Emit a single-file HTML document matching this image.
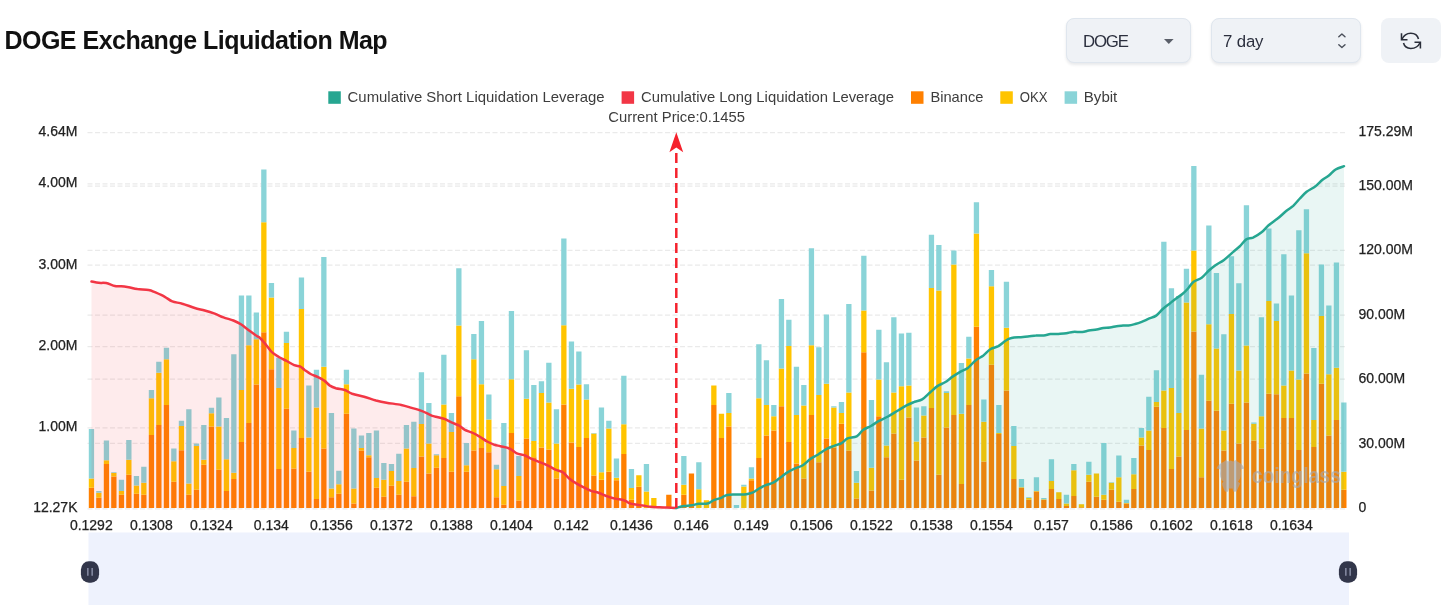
<!DOCTYPE html>
<html><head><meta charset="utf-8"><title>DOGE Exchange Liquidation Map</title>
<style>
html,body{margin:0;padding:0;background:#fff;}
body{width:1443px;height:605px;position:relative;overflow:hidden;font-family:"Liberation Sans",sans-serif;}
h1{position:absolute;left:4.4px;top:24.8px;margin:0;font-size:25px;line-height:30px;font-weight:bold;color:#111;letter-spacing:-0.5px;white-space:nowrap;}
.sel{position:absolute;top:18px;height:45px;box-sizing:border-box;background:#eff2f6;border:1px solid #dfe6ee;border-radius:8px;box-shadow:0 2px 3px rgba(30,40,60,.10);font-size:16.8px;color:#2b2f3e;line-height:45px;}
.sel span{position:absolute;top:0;}
.btn{position:absolute;left:1381px;top:18px;width:60px;height:45px;background:#eff2f6;border-radius:8px;}
</style></head><body>
<svg width="1443" height="605" viewBox="0 0 1443 605" style="position:absolute;left:0;top:0"><g stroke="#eaeaea" stroke-width="1.25" stroke-dasharray="5 2.5" fill="none"><line x1="87.5" x2="1347.5" y1="132.5" y2="132.5"/><line x1="87.5" x2="1347.5" y1="183.9" y2="183.9"/><line x1="87.5" x2="1347.5" y1="265.2" y2="265.2"/><line x1="87.5" x2="1347.5" y1="346.6" y2="346.6"/><line x1="87.5" x2="1347.5" y1="427.9" y2="427.9"/><line x1="87.5" x2="1347.5" y1="508.8" y2="508.8"/><line x1="87.5" x2="1347.5" y1="186.1" y2="186.1"/><line x1="87.5" x2="1347.5" y1="250.4" y2="250.4"/><line x1="87.5" x2="1347.5" y1="315.1" y2="315.1"/><line x1="87.5" x2="1347.5" y1="379.2" y2="379.2"/><line x1="87.5" x2="1347.5" y1="443.4" y2="443.4"/></g>
<path fill="#ff8000" d="M88.8 507.9V487.8h5.3V507.9zM96.2 507.9V497.8h5.3V507.9zM103.8 507.9V464.1h5.3V507.9zM111.2 507.9V476.5h5.3V507.9zM118.8 507.9V494.8h5.3V507.9zM126.2 507.9V474.8h5.3V507.9zM133.8 507.9V493.8h5.3V507.9zM141.2 507.9V494.8h5.3V507.9zM148.8 507.9V434.9h5.3V507.9zM156.2 507.9V424.9h5.3V507.9zM163.8 507.9V404.9h5.3V507.9zM171.2 507.9V481.8h5.3V507.9zM178.8 507.9V450.3h5.3V507.9zM186.2 507.9V494.8h5.3V507.9zM193.8 507.9V489.8h5.3V507.9zM201.2 507.9V464.8h5.3V507.9zM208.8 507.9V426.6h5.3V507.9zM216.2 507.9V469.8h5.3V507.9zM223.8 507.9V491h5.3V507.9zM231.2 507.9V479h5.3V507.9zM238.8 507.9V441.9h5.3V507.9zM246.2 507.9V422.9h5.3V507.9zM253.7 507.9V384.5h5.3V507.9zM261.2 507.9V332.3h5.3V507.9zM268.8 507.9V369.2h5.3V507.9zM276.2 507.9V469.1h5.3V507.9zM283.8 507.9V408.7h5.3V507.9zM291.2 507.9V468.6h5.3V507.9zM298.8 507.9V437.9h5.3V507.9zM306.2 507.9V471.8h5.3V507.9zM313.8 507.9V499h5.3V507.9zM321.2 507.9V448.6h5.3V507.9zM328.8 507.9V497.3h5.3V507.9zM336.2 507.9V493.8h5.3V507.9zM343.8 507.9V413.7h5.3V507.9zM351.2 507.9V503.5h5.3V507.9zM358.8 507.9V450.6h5.3V507.9zM366.2 507.9V457.3h5.3V507.9zM373.8 507.9V487.8h5.3V507.9zM381.2 507.9V496.8h5.3V507.9zM388.8 507.9V485.8h5.3V507.9zM396.2 507.9V494.8h5.3V507.9zM403.8 507.9V481.8h5.3V507.9zM411.2 507.9V496.3h5.3V507.9zM418.8 507.9V456.6h5.3V507.9zM426.2 507.9V473.6h5.3V507.9zM433.8 507.9V467.8h5.3V507.9zM441.2 507.9V458.1h5.3V507.9zM448.8 507.9V471.8h5.3V507.9zM456.2 507.9V396.2h5.3V507.9zM463.8 507.9V471.8h5.3V507.9zM471.2 507.9V450.6h5.3V507.9zM478.8 507.9V448.1h5.3V507.9zM486.2 507.9V452.3h5.3V507.9zM493.8 507.9V497.3h5.3V507.9zM501.2 507.9V504.7h5.3V507.9zM508.8 507.9V433.1h5.3V507.9zM516.2 507.9V500.5h5.3V507.9zM523.8 507.9V438.6h5.3V507.9zM531.2 507.9V457.3h5.3V507.9zM538.8 507.9V447.4h5.3V507.9zM546.2 507.9V449.4h5.3V507.9zM553.8 507.9V478.5h5.3V507.9zM561.2 507.9V404.4h5.3V507.9zM568.8 507.9V442.4h5.3V507.9zM576.2 507.9V446.9h5.3V507.9zM583.8 507.9V437.9h5.3V507.9zM591.2 507.9V475.5h5.3V507.9zM598.8 507.9V479.8h5.3V507.9zM606.2 507.9V471.8h5.3V507.9zM613.8 507.9V480.3h5.3V507.9zM621.2 507.9V454.1h5.3V507.9zM628.8 507.9V499.8h5.3V507.9zM636.2 507.9V486.8h5.3V507.9zM658.8 507.9V506.7h5.3V507.9zM666.2 507.9V494.8h5.3V507.9zM681.2 507.9V494.8h5.3V507.9zM688.8 507.9V473.6h5.3V507.9zM711.2 507.9V404.9h5.3V507.9zM718.8 507.9V437.9h5.3V507.9zM726.2 507.9V426.6h5.3V507.9zM748.8 507.9V480.3h5.3V507.9zM756.2 507.9V458.1h5.3V507.9zM763.8 507.9V435.6h5.3V507.9zM771.2 507.9V430.4h5.3V507.9zM778.8 507.9V406.2h5.3V507.9zM786.2 507.9V441.9h5.3V507.9zM793.8 507.9V463.6h5.3V507.9zM801.2 507.9V478.5h5.3V507.9zM808.8 507.9V414.9h5.3V507.9zM816.2 507.9V462.3h5.3V507.9zM823.8 507.9V438.6h5.3V507.9zM831.2 507.9V447.4h5.3V507.9zM838.8 507.9V423.7h5.3V507.9zM846.2 507.9V450.6h5.3V507.9zM853.8 507.9V498.5h5.3V507.9zM861.2 507.9V352.3h5.3V507.9zM868.8 507.9V490.5h5.3V507.9zM876.2 507.9V416.2h5.3V507.9zM883.8 507.9V457.3h5.3V507.9zM891.2 507.9V433.6h5.3V507.9zM898.8 507.9V479.8h5.3V507.9zM906.2 507.9V417.4h5.3V507.9zM913.8 507.9V460.6h5.3V507.9zM921.2 507.9V437.4h5.3V507.9zM928.8 507.9V407.9h5.3V507.9zM936.2 507.9V474.8h5.3V507.9zM943.8 507.9V427.4h5.3V507.9zM951.2 507.9V414.9h5.3V507.9zM958.8 507.9V484h5.3V507.9zM966.2 507.9V404.9h5.3V507.9zM973.8 507.9V326.8h5.3V507.9zM981.2 507.9V461.6h5.3V507.9zM988.8 507.9V364.8h5.3V507.9zM996.2 507.9V434.1h5.3V507.9zM1003.8 507.9V390.5h5.3V507.9zM1011.2 507.9V479h5.3V507.9zM1018.8 507.9V488h5.3V507.9zM1026.2 507.9V499.8h5.3V507.9zM1033.8 507.9V491.5h5.3V507.9zM1041.2 507.9V499.8h5.3V507.9zM1048.8 507.9V489h5.3V507.9zM1056.2 507.9V499h5.3V507.9zM1063.8 507.9V506h5.3V507.9zM1071.2 507.9V496h5.3V507.9zM1078.8 507.9V507.2h5.3V507.9zM1086.2 507.9V481.8h5.3V507.9zM1093.8 507.9V496.8h5.3V507.9zM1101.2 507.9V499.8h5.3V507.9zM1108.8 507.9V489.8h5.3V507.9zM1116.2 507.9V501.7h5.3V507.9zM1123.8 507.9V503.5h5.3V507.9zM1131.2 507.9V489h5.3V507.9zM1138.8 507.9V445.6h5.3V507.9zM1146.2 507.9V449.9h5.3V507.9zM1153.8 507.9V406.7h5.3V507.9zM1161.2 507.9V427.9h5.3V507.9zM1168.8 507.9V469.1h5.3V507.9zM1176.2 507.9V456.6h5.3V507.9zM1183.8 507.9V429.9h5.3V507.9zM1191.2 507.9V331.6h5.3V507.9zM1198.8 507.9V477.3h5.3V507.9zM1206.2 507.9V400.7h5.3V507.9zM1213.8 507.9V410.7h5.3V507.9zM1221.2 507.9V450.6h5.3V507.9zM1228.8 507.9V403.7h5.3V507.9zM1236.2 507.9V443.6h5.3V507.9zM1243.8 507.9V402.4h5.3V507.9zM1251.2 507.9V440.6h5.3V507.9zM1258.8 507.9V448.6h5.3V507.9zM1266.2 507.9V393.7h5.3V507.9zM1273.8 507.9V394.2h5.3V507.9zM1281.2 507.9V417.9h5.3V507.9zM1288.8 507.9V417.9h5.3V507.9zM1296.2 507.9V449.9h5.3V507.9zM1303.8 507.9V373.5h5.3V507.9zM1311.2 507.9V446.9h5.3V507.9zM1318.8 507.9V383.7h5.3V507.9zM1326.2 507.9V435.6h5.3V507.9zM1333.8 507.9V419.9h5.3V507.9zM1341.2 507.9V489.8h5.3V507.9z"/>
<path fill="#ffc400" d="M88.8 487.8V478.5h5.3V487.8zM96.2 497.8V492.8h5.3V497.8zM103.8 464.1V460.3h5.3V464.1zM111.2 476.5V473.1h5.3V476.5zM118.8 494.8V491h5.3V494.8zM126.2 474.8V459.8h5.3V474.8zM133.8 493.8V485.5h5.3V493.8zM141.2 494.8V482.8h5.3V494.8zM148.8 434.9V398.2h5.3V434.9zM156.2 424.9V372.7h5.3V424.9zM163.8 404.9V359.3h5.3V404.9zM171.2 481.8V461.3h5.3V481.8zM178.8 450.3V426.1h5.3V450.3zM186.2 494.8V483.5h5.3V494.8zM193.8 489.8V446.1h5.3V489.8zM201.2 464.8V459.8h5.3V464.8zM208.8 426.6V413.2h5.3V426.6zM216.2 469.8V426.6h5.3V469.8zM223.8 491V459.3h5.3V491zM231.2 479V472.8h5.3V479zM238.8 441.9V390h5.3V441.9zM246.2 422.9V345.3h5.3V422.9zM253.7 384.5V339.3h5.3V384.5zM261.2 332.3V222.3h5.3V332.3zM268.8 369.2V297.4h5.3V369.2zM276.2 469.1V388h5.3V469.1zM283.8 408.7V343h5.3V408.7zM291.2 468.6V448.1h5.3V468.6zM298.8 437.9V309.1h5.3V437.9zM306.2 471.8V437.4h5.3V471.8zM313.8 499V407.4h5.3V499zM321.2 448.6V366.7h5.3V448.6zM328.8 497.3V488.5h5.3V497.3zM336.2 493.8V484.3h5.3V493.8zM343.8 413.7V384.2h5.3V413.7zM351.2 503.5V488.5h5.3V503.5zM358.8 450.6V448.1h5.3V450.6zM366.2 457.3V455.3h5.3V457.3zM373.8 487.8V478h5.3V487.8zM381.2 496.8V479.8h5.3V496.8zM388.8 485.8V471.1h5.3V485.8zM396.2 494.8V481h5.3V494.8zM403.8 481.8V448.4h5.3V481.8zM411.2 496.3V468.1h5.3V496.3zM418.8 456.6V423.9h5.3V456.6zM426.2 473.6V443.4h5.3V473.6zM433.8 467.8V455.3h5.3V467.8zM441.2 458.1V404.4h5.3V458.1zM448.8 471.8V431.9h5.3V471.8zM456.2 396.2V325.6h5.3V396.2zM463.8 471.8V465.3h5.3V471.8zM471.2 450.6V359.3h5.3V450.6zM478.8 448.1V384.2h5.3V448.1zM486.2 452.3V419.4h5.3V452.3zM493.8 497.3V469.3h5.3V497.3zM501.2 504.7V486h5.3V504.7zM508.8 433.1V379.2h5.3V433.1zM516.2 500.5V476h5.3V500.5zM523.8 438.6V398.7h5.3V438.6zM531.2 457.3V441.1h5.3V457.3zM538.8 447.4V393h5.3V447.4zM546.2 449.4V402.4h5.3V449.4zM553.8 478.5V443.6h5.3V478.5zM561.2 404.4V325.3h5.3V404.4zM568.8 442.4V388.7h5.3V442.4zM576.2 446.9V384.5h5.3V446.9zM583.8 437.9V399.5h5.3V437.9zM591.2 475.5V433.6h5.3V475.5zM598.8 479.8V472.3h5.3V479.8zM606.2 471.8V428.6h5.3V471.8zM613.8 480.3V477.8h5.3V480.3zM621.2 454.1V424.2h5.3V454.1zM628.8 499.8V488h5.3V499.8zM636.2 486.8V475.3h5.3V486.8zM643.8 507.9V491.5h5.3V507.9zM651.2 507.9V498h5.3V507.9zM681.2 494.8V484.8h5.3V494.8zM696.2 507.9V489.3h5.3V507.9zM703.8 507.9V500.2h5.3V507.9zM711.2 404.9V385.5h5.3V404.9zM718.8 437.9V413.7h5.3V437.9zM726.2 426.6V412.9h5.3V426.6zM741.2 507.9V486.5h5.3V507.9zM748.8 480.3V478.5h5.3V480.3zM756.2 458.1V398.2h5.3V458.1zM763.8 435.6V404.9h5.3V435.6zM771.2 430.4V416.2h5.3V430.4zM778.8 406.2V368.5h5.3V406.2zM786.2 441.9V346h5.3V441.9zM793.8 463.6V414.9h5.3V463.6zM801.2 478.5V405.4h5.3V478.5zM808.8 414.9V345.3h5.3V414.9zM816.2 462.3V395h5.3V462.3zM823.8 438.6V383.7h5.3V438.6zM831.2 447.4V407.4h5.3V447.4zM838.8 423.7V412.9h5.3V423.7zM846.2 450.6V392.5h5.3V450.6zM853.8 498.5V482.8h5.3V498.5zM861.2 352.3V310.4h5.3V352.3zM868.8 490.5V467.8h5.3V490.5zM876.2 416.2V379.5h5.3V416.2zM883.8 457.3V445.6h5.3V457.3zM891.2 433.6V392.5h5.3V433.6zM898.8 479.8V386.2h5.3V479.8zM906.2 417.4V385.5h5.3V417.4zM913.8 460.6V441.6h5.3V460.6zM921.2 437.4V415.4h5.3V437.4zM928.8 407.9V287.9h5.3V407.9zM936.2 474.8V290.6h5.3V474.8zM943.8 427.4V393h5.3V427.4zM951.2 414.9V264.5h5.3V414.9zM958.8 484V413.7h5.3V484zM966.2 404.9V358.5h5.3V404.9zM973.8 326.8V233.5h5.3V326.8zM981.2 461.6V421.7h5.3V461.6zM988.8 364.8V286.2h5.3V364.8zM996.2 434.1V432.9h5.3V434.1zM1003.8 390.5V327.8h5.3V390.5zM1011.2 479V446.1h5.3V479zM1018.8 488V487.3h5.3V488zM1026.2 499.8V498h5.3V499.8zM1033.8 491.5V491h5.3V491.5zM1041.2 499.8V499.3h5.3V499.8zM1048.8 489V481h5.3V489zM1056.2 499V492.3h5.3V499zM1063.8 506V503.5h5.3V506zM1071.2 496V470.3h5.3V496zM1078.8 507.2V504.2h5.3V507.2zM1086.2 481.8V474.8h5.3V481.8zM1093.8 496.8V473.6h5.3V496.8zM1101.2 499.8V494.8h5.3V499.8zM1108.8 489.8V482.8h5.3V489.8zM1116.2 501.7V477.3h5.3V501.7zM1123.8 503.5V503h5.3V503.5zM1131.2 489V474.3h5.3V489zM1138.8 445.6V437.4h5.3V445.6zM1146.2 449.9V430.6h5.3V449.9zM1153.8 406.7V401.9h5.3V406.7zM1161.2 427.9V390.5h5.3V427.9zM1168.8 469.1V388h5.3V469.1zM1176.2 456.6V412.9h5.3V456.6zM1183.8 429.9V302.4h5.3V429.9zM1191.2 331.6V250.5h5.3V331.6zM1198.8 477.3V428.6h5.3V477.3zM1206.2 400.7V324.3h5.3V400.7zM1213.8 410.7V348.5h5.3V410.7zM1221.2 450.6V430.4h5.3V450.6zM1228.8 403.7V314.1h5.3V403.7zM1236.2 443.6V370.5h5.3V443.6zM1243.8 402.4V345.5h5.3V402.4zM1251.2 440.6V423.7h5.3V440.6zM1258.8 448.6V416.2h5.3V448.6zM1266.2 393.7V301.1h5.3V393.7zM1273.8 394.2V321.1h5.3V394.2zM1281.2 417.9V385.5h5.3V417.9zM1288.8 417.9V370.5h5.3V417.9zM1296.2 449.9V379.5h5.3V449.9zM1303.8 373.5V253.2h5.3V373.5zM1311.2 446.9V419.9h5.3V446.9zM1318.8 383.7V316.1h5.3V383.7zM1326.2 435.6V374.2h5.3V435.6zM1333.8 419.9V367.7h5.3V419.9zM1341.2 489.8V471.8h5.3V489.8z"/>
<path fill="#8ad4d8" d="M88.8 478.5V428.9h5.3V478.5zM96.2 492.8V491h5.3V492.8zM103.8 460.3V440.6h5.3V460.3zM111.2 473.1V472.3h5.3V473.1zM118.8 491V479.8h5.3V491zM126.2 459.8V439.9h5.3V459.8zM133.8 485.5V476h5.3V485.5zM141.2 482.8V466.8h5.3V482.8zM148.8 398.2V390h5.3V398.2zM156.2 372.7V361.8h5.3V372.7zM163.8 359.3V347.8h5.3V359.3zM171.2 461.3V448.4h5.3V461.3zM178.8 426.1V420.7h5.3V426.1zM186.2 483.5V409.2h5.3V483.5zM193.8 446.1V443.6h5.3V446.1zM201.2 459.8V424.9h5.3V459.8zM208.8 413.2V407.7h5.3V413.2zM216.2 426.6V397.5h5.3V426.6zM223.8 459.3V417.9h5.3V459.3zM231.2 472.8V354.3h5.3V472.8zM238.8 390V295.4h5.3V390zM246.2 345.3V295.4h5.3V345.3zM253.7 339.3V312.4h5.3V339.3zM261.2 222.3V169.4h5.3V222.3zM268.8 297.4V282.9h5.3V297.4zM276.2 388V357.8h5.3V388zM283.8 343V331.8h5.3V343zM291.2 448.1V430.6h5.3V448.1zM298.8 309.1V277.4h5.3V309.1zM306.2 437.4V385.5h5.3V437.4zM313.8 407.4V369.7h5.3V407.4zM321.2 366.7V257h5.3V366.7zM328.8 488.5V412.9h5.3V488.5zM336.2 484.3V470.8h5.3V484.3zM343.8 384.2V369.7h5.3V384.2zM351.2 488.5V428.6h5.3V488.5zM358.8 448.1V435.6h5.3V448.1zM366.2 455.3V432.9h5.3V455.3zM373.8 478V430.4h5.3V478zM381.2 479.8V463.1h5.3V479.8zM388.8 471.1V464.1h5.3V471.1zM396.2 481V453.8h5.3V481zM403.8 448.4V424.9h5.3V448.4zM411.2 468.1V421.7h5.3V468.1zM418.8 423.9V372.2h5.3V423.9zM426.2 443.4V402.9h5.3V443.4zM433.8 455.3V454.3h5.3V455.3zM441.2 404.4V354.8h5.3V404.4zM448.8 431.9V412.9h5.3V431.9zM456.2 325.6V268.2h5.3V325.6zM463.8 465.3V442.9h5.3V465.3zM471.2 359.3V334.1h5.3V359.3zM478.8 384.2V321.1h5.3V384.2zM486.2 419.4V394.5h5.3V419.4zM493.8 469.3V464.8h5.3V469.3zM501.2 486V422.9h5.3V486zM508.8 379.2V311.1h5.3V379.2zM516.2 476V456.1h5.3V476zM523.8 398.7V350.3h5.3V398.7zM531.2 441.1V385h5.3V441.1zM538.8 393V381.2h5.3V393zM546.2 402.4V362.8h5.3V402.4zM553.8 443.6V409.2h5.3V443.6zM561.2 325.3V238.5h5.3V325.3zM568.8 388.7V341.5h5.3V388.7zM576.2 384.5V351.5h5.3V384.5zM583.8 399.5V384.2h5.3V399.5zM591.2 433.6V432.9h5.3V433.6zM598.8 472.3V407.4h5.3V472.3zM606.2 428.6V420.7h5.3V428.6zM613.8 477.8V458.6h5.3V477.8zM621.2 424.2V375.7h5.3V424.2zM628.8 488V469.1h5.3V488zM643.8 491.5V464.1h5.3V491.5zM681.2 484.8V456.1h5.3V484.8zM696.2 489.3V462.3h5.3V489.3zM726.2 412.9V393h5.3V412.9zM733.8 507.9V505h5.3V507.9zM741.2 486.5V484.8h5.3V486.5zM748.8 478.5V467.3h5.3V478.5zM756.2 398.2V344.3h5.3V398.2zM763.8 404.9V360.3h5.3V404.9zM771.2 416.2V404.9h5.3V416.2zM778.8 368.5V299.1h5.3V368.5zM786.2 346V319.8h5.3V346zM793.8 414.9V366.7h5.3V414.9zM801.2 405.4V385h5.3V405.4zM808.8 345.3V248.2h5.3V345.3zM816.2 395V347.3h5.3V395zM823.8 383.7V314.4h5.3V383.7zM831.2 407.4V406.2h5.3V407.4zM838.8 412.9V401.9h5.3V412.9zM846.2 392.5V304.1h5.3V392.5zM853.8 482.8V471.1h5.3V482.8zM861.2 310.4V255.7h5.3V310.4zM868.8 467.8V400h5.3V467.8zM876.2 379.5V329.8h5.3V379.5zM883.8 445.6V362.3h5.3V445.6zM891.2 392.5V317.3h5.3V392.5zM898.8 386.2V333.6h5.3V386.2zM906.2 385.5V332.8h5.3V385.5zM913.8 441.6V407.4h5.3V441.6zM921.2 415.4V406.2h5.3V415.4zM928.8 287.9V234.8h5.3V287.9zM936.2 290.6V245h5.3V290.6zM943.8 393V391.2h5.3V393zM951.2 264.5V250.5h5.3V264.5zM958.8 413.7V363h5.3V413.7zM966.2 358.5V336.8h5.3V358.5zM973.8 233.5V202.3h5.3V233.5zM981.2 421.7V399.5h5.3V421.7zM988.8 286.2V269.9h5.3V286.2zM996.2 432.9V404.9h5.3V432.9zM1003.8 327.8V281.7h5.3V327.8zM1011.2 446.1V426.1h5.3V446.1zM1018.8 487.3V479h5.3V487.3zM1026.2 498V497.3h5.3V498zM1033.8 491V477.3h5.3V491zM1041.2 499.3V498h5.3V499.3zM1048.8 481V459.3h5.3V481zM1063.8 503.5V494.8h5.3V503.5zM1071.2 470.3V464.1h5.3V470.3zM1086.2 474.8V461.8h5.3V474.8zM1101.2 494.8V443.1h5.3V494.8zM1108.8 482.8V482.3h5.3V482.8zM1116.2 477.3V455.6h5.3V477.3zM1123.8 503V499.8h5.3V503zM1131.2 474.3V458.1h5.3V474.3zM1138.8 437.4V428.1h5.3V437.4zM1146.2 430.6V396.7h5.3V430.6zM1153.8 401.9V370.2h5.3V401.9zM1161.2 390.5V241.7h5.3V390.5zM1168.8 388V288.2h5.3V388zM1176.2 412.9V296.1h5.3V412.9zM1183.8 302.4V268.7h5.3V302.4zM1191.2 250.5V166.1h5.3V250.5zM1198.8 428.6V374.7h5.3V428.6zM1206.2 324.3V225.5h5.3V324.3zM1213.8 348.5V272.9h5.3V348.5zM1221.2 430.4V334.3h5.3V430.4zM1228.8 314.1V256.2h5.3V314.1zM1236.2 370.5V283.2h5.3V370.5zM1243.8 345.5V205.3h5.3V345.5zM1251.2 423.7V422.4h5.3V423.7zM1258.8 416.2V317.3h5.3V416.2zM1266.2 301.1V228.5h5.3V301.1zM1273.8 321.1V303.6h5.3V321.1zM1281.2 385.5V254.2h5.3V385.5zM1288.8 370.5V295.4h5.3V370.5zM1296.2 379.5V230.3h5.3V379.5zM1303.8 253.2V209.3h5.3V253.2zM1311.2 419.9V348h5.3V419.9zM1318.8 316.1V264.5h5.3V316.1zM1326.2 374.2V305.4h5.3V374.2zM1333.8 367.7V262.5h5.3V367.7zM1341.2 471.8V402.4h5.3V471.8z"/>
<path d="M91.5 281.5C92.7 281.7 96.4 282.6 98.7 282.8C101.1 283.1 103.6 282.6 106.2 283.1C108.8 283.6 112.5 285.5 114.9 286C117.3 286.5 119 286 121.2 286.2C123.4 286.4 126.1 286.8 128.7 287.2C131.3 287.7 134.2 288.6 137.4 289.1C140.6 289.5 145.8 289.5 148.6 290C151.4 290.5 152.3 291.1 154.9 292.2C157.4 293.3 162 295.3 164.8 296.8C167.6 298.3 169.5 300.3 172.3 301.4C175.1 302.5 178.7 302.6 182.3 303.7C185.9 304.7 191.2 306.9 194.8 308C198.4 309.1 201.6 309.6 204.7 310.5C207.9 311.4 211.7 312.6 214.7 313.7C217.7 314.8 220.5 316.3 223.5 317.4C226.4 318.5 230.6 319.4 233.4 320.5C236.2 321.6 238.5 322.8 240.9 324.3C243.3 325.8 245.8 328 248.4 329.9C251 331.8 255.3 334.8 257.1 336.1C259 337.4 258.6 336.6 260 338C261.4 339.3 264 342.4 266 344.7C267.9 346.9 269.8 350.1 271.9 352.1C274 354.1 277 355.9 279.3 357.3C281.7 358.7 284.4 359.8 286.8 361C289.2 362.3 292.1 364.3 294.2 365.2C296.4 366.1 298.5 365.8 300.2 366.5C301.8 367.3 303 368.8 304.6 370C306.3 371.1 308.4 372.8 310.6 374C312.7 375.1 315.9 376.1 318 377.1C320.2 378.1 322.1 379 324 380.4C325.9 381.7 328 384.3 329.9 385.6C331.8 386.8 333.5 387.5 335.9 388.3C338.3 389 342.2 389.2 344.8 390C347.4 390.9 349.1 392.7 352.2 393.8C355.3 394.8 360.3 395.7 364.1 396.7C367.9 397.8 372.5 399.5 376 400.5C379.6 401.4 382.4 402 386.5 402.7C390.5 403.4 397.3 404.1 401.3 404.9C405.4 405.8 408.4 406.9 411.7 407.9C415.1 408.9 419.1 410 422.2 411.2C425.2 412.4 429 414.5 431.1 415.3C433.1 416.2 432.9 415.9 435 416.5C437.1 417 441.3 417.8 443.9 418.7C446.5 419.7 449 421.4 451.4 422.4C453.7 423.5 456.7 424.2 458.8 425.4C460.9 426.6 462.6 428.7 464.8 429.9C466.9 431 469.8 431.5 472.2 432.6C474.6 433.6 477.2 435.1 479.6 436.6C482 438 484.7 440.2 487.1 441.5C489.4 442.8 492.4 444 494.5 444.8C496.6 445.5 498.1 445.6 500.5 446.2C502.8 446.8 506.8 447.3 509.4 448.5C512 449.6 514.4 452.3 516.8 453.4C519.2 454.5 521.9 454.3 524.3 455.2C526.6 456 529.3 457.8 531.7 458.9C534.1 460 536.5 460.8 539.1 461.9C541.8 462.9 545.4 464.3 548.1 465.6C550.7 466.8 553.1 468.7 555.5 469.7C557.9 470.8 560.8 470.9 562.9 472.3C565.1 473.6 566.7 476.4 568.9 478.2C571 480 573.9 482 576.3 483.4C578.7 484.9 581.4 486.3 583.8 487.4C586.1 488.6 588.8 490 591.2 490.9C593.6 491.7 596 491.9 598.6 492.8C601.2 493.7 604.8 495.5 607.4 496.4C610 497.3 612.5 498.1 614.9 498.6C617.3 499.2 620.5 499.3 622.3 499.8C624.1 500.2 624.9 500.7 626 501.2C627.2 501.8 628.2 502.8 629.8 503.3C631.3 503.9 633.6 504.2 635.7 504.6C637.9 505 640.8 505.2 643.2 505.6C645.5 505.9 648 506.6 650.6 506.8C653.2 507.1 656.9 507.1 659.5 507.2C662.1 507.3 664.3 507.5 667 507.6C669.6 507.7 674.8 507.8 676.3 507.9L676.3 507.8L91.5 507.8z" fill="#f23645" fill-opacity="0.1"/>
<path d="M676.3 507.9C677.5 507.6 681.5 506.5 683.9 506.1C686.3 505.7 689 505.7 691.4 505.3C693.7 505 696.2 504.1 698.8 503.8C701.4 503.6 705.3 504.1 707.7 503.5C710.1 503 711.5 501 713.7 500.1C715.8 499.2 719 498.7 721.1 497.9C723.3 497.1 724.4 495.4 727.1 494.9C729.7 494.4 734.4 494.7 737.5 494.6C740.6 494.5 744 494.5 746.4 494.2C748.8 493.9 750.5 493.5 752.4 492.7C754.3 491.9 756.2 490.2 758.3 489C760.5 487.8 763.4 486.2 765.7 485.2C768.1 484.3 771 483.8 773.2 482.7C775.3 481.6 777 480.1 779.1 478.6C781.3 477 784.2 474.4 786.6 472.9C789 471.4 791.4 470.1 794 468.9C796.6 467.6 800.3 466.8 802.9 465.2C805.6 463.6 808 460.6 810.4 458.9C812.8 457.3 815.2 456.4 817.8 454.8C820.4 453.1 824.1 450.2 826.7 448.8C829.4 447.4 831.8 446.7 834.2 445.8C836.6 444.9 839.5 444.3 841.6 443.1C843.8 442 845.2 439.5 847.6 438.4C850 437.3 854.1 437.8 856.7 436.4C859.2 435.1 861 431.5 863.3 429.8C865.6 428.1 868.5 427.4 870.9 426C873.3 424.6 875.8 422.8 878.5 421.2C881.2 419.7 885 418.2 888 416.5C891.1 414.8 894.5 412.6 897.5 410.8C900.6 409 904.3 406.5 907 405.1C909.8 403.7 912.2 402.8 914.6 401.8C917.1 400.9 919.8 400.8 922.2 399.4C924.7 397.9 927.4 394.9 929.8 392.7C932.3 390.6 935 387.7 937.4 386.1C939.9 384.4 942.6 383.8 945 382.3C947.5 380.8 950.2 378.2 952.6 376.6C955.1 374.9 957.8 373.2 960.2 371.8C962.7 370.4 965.4 369.8 967.8 368C970.3 366.2 973 362.4 975.5 360.4C977.9 358.4 980.6 357.5 983.1 355.7C985.5 353.8 988.2 350.5 990.7 349C993.1 347.5 995.8 347.5 998.3 346.2C1000.7 344.8 1003.7 341.8 1005.9 340.5C1008 339.1 1009.3 338.5 1011.6 338C1013.8 337.5 1017.4 337.4 1020 337.2C1022.6 337 1025.4 336.8 1027.9 336.5C1030.5 336.3 1033.3 335.6 1035.9 335.5C1038.4 335.3 1041.5 335.7 1043.8 335.5C1046.1 335.3 1048.1 334.4 1050.4 334.1C1052.7 333.9 1055.8 334 1058.4 333.9C1060.9 333.7 1064 333.5 1066.3 333.2C1068.6 332.9 1070.4 332.1 1072.9 331.9C1075.4 331.7 1079.6 332.1 1082.2 331.9C1084.7 331.7 1086.4 331 1088.8 330.6C1091.1 330.2 1094.4 329.9 1096.7 329.5C1099 329.1 1101.2 328.2 1103.3 327.9C1105.4 327.6 1107.8 327.8 1109.9 327.5C1112.1 327.3 1114.4 326.5 1116.5 326.2C1118.7 325.9 1121.3 325.7 1123.2 325.5C1125.1 325.4 1126.5 325.8 1128.5 325.5C1130.4 325.3 1132.9 324.6 1135.1 324C1137.2 323.4 1139.6 322.6 1141.7 321.8C1143.8 321 1146 319.9 1148.3 318.9C1150.6 317.9 1153.9 317.2 1156.2 315.6C1158.6 314 1160.7 310.9 1162.8 309C1165 307.1 1167.3 305.4 1169.5 303.7C1171.6 302 1173.9 300 1176.1 298.4C1178.2 296.8 1180.8 295.4 1182.7 293.8C1184.6 292.2 1186.3 290.4 1188 288.5C1189.7 286.6 1191.1 283.6 1193.3 281.9C1195.5 280.2 1199.3 279.5 1201.7 277.7C1204.1 276 1206.2 273 1208.4 271C1210.5 269.1 1212.6 267.3 1215.1 265.5C1217.6 263.7 1221.2 262 1224 259.9C1226.9 257.7 1230.4 254.2 1232.9 252.1C1235.4 249.9 1237.5 248.5 1239.6 246.5C1241.8 244.5 1244.2 240.8 1246.3 239.4C1248.5 237.9 1250.5 238.7 1253 237.6C1255.5 236.4 1259.4 234 1261.9 232C1264.4 230 1266.1 227.4 1268.6 225.3C1271.1 223.2 1274.7 220.9 1277.6 218.6C1280.4 216.3 1284 212.8 1286.5 210.8C1289 208.8 1291 207.8 1293.2 205.9C1295.3 203.9 1297.7 200.8 1299.9 198.5C1302 196.3 1304.1 193.8 1306.6 191.8C1309.1 189.9 1313 188.1 1315.5 186.2C1318 184.4 1320.1 181.7 1322.2 180C1324.3 178.3 1326.8 177.2 1328.9 175.5C1331 173.9 1333.2 171 1335.6 169.5C1338 168 1342.7 166.7 1344 166.2L1344 507.8L676.3 507.8z" fill="#26a691" fill-opacity="0.1"/>
<path d="M91.5 281.5C92.7 281.7 96.4 282.6 98.7 282.8C101.1 283.1 103.6 282.6 106.2 283.1C108.8 283.6 112.5 285.5 114.9 286C117.3 286.5 119 286 121.2 286.2C123.4 286.4 126.1 286.8 128.7 287.2C131.3 287.7 134.2 288.6 137.4 289.1C140.6 289.5 145.8 289.5 148.6 290C151.4 290.5 152.3 291.1 154.9 292.2C157.4 293.3 162 295.3 164.8 296.8C167.6 298.3 169.5 300.3 172.3 301.4C175.1 302.5 178.7 302.6 182.3 303.7C185.9 304.7 191.2 306.9 194.8 308C198.4 309.1 201.6 309.6 204.7 310.5C207.9 311.4 211.7 312.6 214.7 313.7C217.7 314.8 220.5 316.3 223.5 317.4C226.4 318.5 230.6 319.4 233.4 320.5C236.2 321.6 238.5 322.8 240.9 324.3C243.3 325.8 245.8 328 248.4 329.9C251 331.8 255.3 334.8 257.1 336.1C259 337.4 258.6 336.6 260 338C261.4 339.3 264 342.4 266 344.7C267.9 346.9 269.8 350.1 271.9 352.1C274 354.1 277 355.9 279.3 357.3C281.7 358.7 284.4 359.8 286.8 361C289.2 362.3 292.1 364.3 294.2 365.2C296.4 366.1 298.5 365.8 300.2 366.5C301.8 367.3 303 368.8 304.6 370C306.3 371.1 308.4 372.8 310.6 374C312.7 375.1 315.9 376.1 318 377.1C320.2 378.1 322.1 379 324 380.4C325.9 381.7 328 384.3 329.9 385.6C331.8 386.8 333.5 387.5 335.9 388.3C338.3 389 342.2 389.2 344.8 390C347.4 390.9 349.1 392.7 352.2 393.8C355.3 394.8 360.3 395.7 364.1 396.7C367.9 397.8 372.5 399.5 376 400.5C379.6 401.4 382.4 402 386.5 402.7C390.5 403.4 397.3 404.1 401.3 404.9C405.4 405.8 408.4 406.9 411.7 407.9C415.1 408.9 419.1 410 422.2 411.2C425.2 412.4 429 414.5 431.1 415.3C433.1 416.2 432.9 415.9 435 416.5C437.1 417 441.3 417.8 443.9 418.7C446.5 419.7 449 421.4 451.4 422.4C453.7 423.5 456.7 424.2 458.8 425.4C460.9 426.6 462.6 428.7 464.8 429.9C466.9 431 469.8 431.5 472.2 432.6C474.6 433.6 477.2 435.1 479.6 436.6C482 438 484.7 440.2 487.1 441.5C489.4 442.8 492.4 444 494.5 444.8C496.6 445.5 498.1 445.6 500.5 446.2C502.8 446.8 506.8 447.3 509.4 448.5C512 449.6 514.4 452.3 516.8 453.4C519.2 454.5 521.9 454.3 524.3 455.2C526.6 456 529.3 457.8 531.7 458.9C534.1 460 536.5 460.8 539.1 461.9C541.8 462.9 545.4 464.3 548.1 465.6C550.7 466.8 553.1 468.7 555.5 469.7C557.9 470.8 560.8 470.9 562.9 472.3C565.1 473.6 566.7 476.4 568.9 478.2C571 480 573.9 482 576.3 483.4C578.7 484.9 581.4 486.3 583.8 487.4C586.1 488.6 588.8 490 591.2 490.9C593.6 491.7 596 491.9 598.6 492.8C601.2 493.7 604.8 495.5 607.4 496.4C610 497.3 612.5 498.1 614.9 498.6C617.3 499.2 620.5 499.3 622.3 499.8C624.1 500.2 624.9 500.7 626 501.2C627.2 501.8 628.2 502.8 629.8 503.3C631.3 503.9 633.6 504.2 635.7 504.6C637.9 505 640.8 505.2 643.2 505.6C645.5 505.9 648 506.6 650.6 506.8C653.2 507.1 656.9 507.1 659.5 507.2C662.1 507.3 664.3 507.5 667 507.6C669.6 507.7 674.8 507.8 676.3 507.9" fill="none" stroke="#f23645" stroke-width="2.5" stroke-linejoin="round" stroke-linecap="round"/>
<path d="M676.3 507.9C677.5 507.6 681.5 506.5 683.9 506.1C686.3 505.7 689 505.7 691.4 505.3C693.7 505 696.2 504.1 698.8 503.8C701.4 503.6 705.3 504.1 707.7 503.5C710.1 503 711.5 501 713.7 500.1C715.8 499.2 719 498.7 721.1 497.9C723.3 497.1 724.4 495.4 727.1 494.9C729.7 494.4 734.4 494.7 737.5 494.6C740.6 494.5 744 494.5 746.4 494.2C748.8 493.9 750.5 493.5 752.4 492.7C754.3 491.9 756.2 490.2 758.3 489C760.5 487.8 763.4 486.2 765.7 485.2C768.1 484.3 771 483.8 773.2 482.7C775.3 481.6 777 480.1 779.1 478.6C781.3 477 784.2 474.4 786.6 472.9C789 471.4 791.4 470.1 794 468.9C796.6 467.6 800.3 466.8 802.9 465.2C805.6 463.6 808 460.6 810.4 458.9C812.8 457.3 815.2 456.4 817.8 454.8C820.4 453.1 824.1 450.2 826.7 448.8C829.4 447.4 831.8 446.7 834.2 445.8C836.6 444.9 839.5 444.3 841.6 443.1C843.8 442 845.2 439.5 847.6 438.4C850 437.3 854.1 437.8 856.7 436.4C859.2 435.1 861 431.5 863.3 429.8C865.6 428.1 868.5 427.4 870.9 426C873.3 424.6 875.8 422.8 878.5 421.2C881.2 419.7 885 418.2 888 416.5C891.1 414.8 894.5 412.6 897.5 410.8C900.6 409 904.3 406.5 907 405.1C909.8 403.7 912.2 402.8 914.6 401.8C917.1 400.9 919.8 400.8 922.2 399.4C924.7 397.9 927.4 394.9 929.8 392.7C932.3 390.6 935 387.7 937.4 386.1C939.9 384.4 942.6 383.8 945 382.3C947.5 380.8 950.2 378.2 952.6 376.6C955.1 374.9 957.8 373.2 960.2 371.8C962.7 370.4 965.4 369.8 967.8 368C970.3 366.2 973 362.4 975.5 360.4C977.9 358.4 980.6 357.5 983.1 355.7C985.5 353.8 988.2 350.5 990.7 349C993.1 347.5 995.8 347.5 998.3 346.2C1000.7 344.8 1003.7 341.8 1005.9 340.5C1008 339.1 1009.3 338.5 1011.6 338C1013.8 337.5 1017.4 337.4 1020 337.2C1022.6 337 1025.4 336.8 1027.9 336.5C1030.5 336.3 1033.3 335.6 1035.9 335.5C1038.4 335.3 1041.5 335.7 1043.8 335.5C1046.1 335.3 1048.1 334.4 1050.4 334.1C1052.7 333.9 1055.8 334 1058.4 333.9C1060.9 333.7 1064 333.5 1066.3 333.2C1068.6 332.9 1070.4 332.1 1072.9 331.9C1075.4 331.7 1079.6 332.1 1082.2 331.9C1084.7 331.7 1086.4 331 1088.8 330.6C1091.1 330.2 1094.4 329.9 1096.7 329.5C1099 329.1 1101.2 328.2 1103.3 327.9C1105.4 327.6 1107.8 327.8 1109.9 327.5C1112.1 327.3 1114.4 326.5 1116.5 326.2C1118.7 325.9 1121.3 325.7 1123.2 325.5C1125.1 325.4 1126.5 325.8 1128.5 325.5C1130.4 325.3 1132.9 324.6 1135.1 324C1137.2 323.4 1139.6 322.6 1141.7 321.8C1143.8 321 1146 319.9 1148.3 318.9C1150.6 317.9 1153.9 317.2 1156.2 315.6C1158.6 314 1160.7 310.9 1162.8 309C1165 307.1 1167.3 305.4 1169.5 303.7C1171.6 302 1173.9 300 1176.1 298.4C1178.2 296.8 1180.8 295.4 1182.7 293.8C1184.6 292.2 1186.3 290.4 1188 288.5C1189.7 286.6 1191.1 283.6 1193.3 281.9C1195.5 280.2 1199.3 279.5 1201.7 277.7C1204.1 276 1206.2 273 1208.4 271C1210.5 269.1 1212.6 267.3 1215.1 265.5C1217.6 263.7 1221.2 262 1224 259.9C1226.9 257.7 1230.4 254.2 1232.9 252.1C1235.4 249.9 1237.5 248.5 1239.6 246.5C1241.8 244.5 1244.2 240.8 1246.3 239.4C1248.5 237.9 1250.5 238.7 1253 237.6C1255.5 236.4 1259.4 234 1261.9 232C1264.4 230 1266.1 227.4 1268.6 225.3C1271.1 223.2 1274.7 220.9 1277.6 218.6C1280.4 216.3 1284 212.8 1286.5 210.8C1289 208.8 1291 207.8 1293.2 205.9C1295.3 203.9 1297.7 200.8 1299.9 198.5C1302 196.3 1304.1 193.8 1306.6 191.8C1309.1 189.9 1313 188.1 1315.5 186.2C1318 184.4 1320.1 181.7 1322.2 180C1324.3 178.3 1326.8 177.2 1328.9 175.5C1331 173.9 1333.2 171 1335.6 169.5C1338 168 1342.7 166.7 1344 166.2" fill="none" stroke="#26a691" stroke-width="2.5" stroke-linejoin="round" stroke-linecap="round"/>
<line x1="676.3" x2="676.3" y1="153" y2="508" stroke="#f5222d" stroke-width="2.5" stroke-dasharray="10 5"/>
<path d="M676.3 132.3L683.2 152.3L676.3 147.6L669.4 152.3z" fill="#f5222d"/>
<g font-size="14" fill="#222" stroke="#222" stroke-width="0.25" font-family="Liberation Sans, sans-serif"><text x="77.5" y="135.8" text-anchor="end">4.64M</text><text x="77.5" y="187.3" text-anchor="end">4.00M</text><text x="77.5" y="268.6" text-anchor="end">3.00M</text><text x="77.5" y="349.8" text-anchor="end">2.00M</text><text x="77.5" y="431" text-anchor="end">1.00M</text><text x="77.5" y="511.8" text-anchor="end">12.27K</text><text x="1358.5" y="135.6">175.29M</text><text x="1358.5" y="190">150.00M</text><text x="1358.5" y="254.3">120.00M</text><text x="1358.5" y="319">90.00M</text><text x="1358.5" y="383.3">60.00M</text><text x="1358.5" y="447.5">30.00M</text><text x="1358.5" y="511.7">0</text><text x="91.3" y="529.5" text-anchor="middle">0.1292</text><text x="151.3" y="529.5" text-anchor="middle">0.1308</text><text x="211.3" y="529.5" text-anchor="middle">0.1324</text><text x="271.3" y="529.5" text-anchor="middle">0.134</text><text x="331.3" y="529.5" text-anchor="middle">0.1356</text><text x="391.3" y="529.5" text-anchor="middle">0.1372</text><text x="451.3" y="529.5" text-anchor="middle">0.1388</text><text x="511.3" y="529.5" text-anchor="middle">0.1404</text><text x="571.3" y="529.5" text-anchor="middle">0.142</text><text x="631.3" y="529.5" text-anchor="middle">0.1436</text><text x="691.3" y="529.5" text-anchor="middle">0.146</text><text x="751.3" y="529.5" text-anchor="middle">0.149</text><text x="811.3" y="529.5" text-anchor="middle">0.1506</text><text x="871.3" y="529.5" text-anchor="middle">0.1522</text><text x="931.3" y="529.5" text-anchor="middle">0.1538</text><text x="991.3" y="529.5" text-anchor="middle">0.1554</text><text x="1051.3" y="529.5" text-anchor="middle">0.157</text><text x="1111.3" y="529.5" text-anchor="middle">0.1586</text><text x="1171.3" y="529.5" text-anchor="middle">0.1602</text><text x="1231.3" y="529.5" text-anchor="middle">0.1618</text><text x="1291.3" y="529.5" text-anchor="middle">0.1634</text></g>
<g font-size="15" fill="#3d3d3d" font-family="Liberation Sans, sans-serif"><rect x="328.3" y="91.3" width="12.5" height="12.5" fill="#26a691"/><text x="347.6" y="101.7" textLength="257" lengthAdjust="spacingAndGlyphs">Cumulative Short Liquidation Leverage</text><rect x="621.6" y="91.3" width="12.5" height="12.5" fill="#f23645"/><text x="641" y="101.7" textLength="253" lengthAdjust="spacingAndGlyphs">Cumulative Long Liquidation Leverage</text><rect x="911" y="91.3" width="12.5" height="12.5" fill="#ff8000"/><text x="930.4" y="101.7" textLength="53" lengthAdjust="spacingAndGlyphs">Binance</text><rect x="1000.3" y="91.3" width="12.5" height="12.5" fill="#ffc400"/><text x="1019.8" y="101.7" textLength="27.8" lengthAdjust="spacingAndGlyphs">OKX</text><rect x="1064.6" y="91.3" width="12.5" height="12.5" fill="#8ad4d8"/><text x="1083.8" y="101.7" textLength="33.5" lengthAdjust="spacingAndGlyphs">Bybit</text><text x="608.3" y="122" textLength="136.6" lengthAdjust="spacingAndGlyphs">Current Price:0.1455</text></g>
<g opacity="0.62" fill="#a5aab4"><path d="M1223.5 462L1226 460L1228 461.6L1230.5 460.4L1233 461.6L1235.5 460L1238 462C1241 463.5 1244 466 1244.2 468.6L1240.5 469.6L1240.8 474C1240.8 478 1239.5 480 1238 481.5L1240.2 483.5L1239 486L1236.5 491.5L1233.5 491.7L1232.5 488.5L1229 488.5L1228 491.7L1225 491.5L1222.5 486L1222 483.5L1223.5 481.5C1221.5 480 1220 478 1220 474L1220.3 469.6L1216.6 468.6C1217 466 1220 463.5 1223.5 462Z"/><text x="1251.7" y="482.7" font-family="Liberation Sans, sans-serif" font-weight="bold" font-size="21.5" textLength="89" lengthAdjust="spacingAndGlyphs">coinglass</text></g>
<rect x="88.5" y="532.5" width="1260.5" height="80" fill="#eef2fd"/>
<rect x="80.9" y="561.3" width="18.2" height="21.4" rx="8" ry="8.5" fill="#32364a"/><path d="M87.85 568v7.8M92.15 568v7.8" stroke="#8e93ab" stroke-width="1.4"/>
<rect x="1338.9" y="561.3" width="18.2" height="21.4" rx="8" ry="8.5" fill="#32364a"/><path d="M1345.85 568v7.8M1350.15 568v7.8" stroke="#8e93ab" stroke-width="1.4"/></svg>
<h1>DOGE Exchange Liquidation Map</h1>
<div class="sel" style="left:1066px;width:125px;"><span style="left:16px;letter-spacing:-1.15px">DOGE</span>
<svg style="position:absolute;left:97px;top:20px" width="10" height="6"><path d="M0 0h9.6L4.8 5z" fill="#5a5f69"/></svg></div>
<div class="sel" style="left:1211px;width:150px;"><span style="left:11px;letter-spacing:-0.15px">7 day</span>
<svg style="position:absolute;left:123px;top:12px" width="14" height="22"><path d="M3.8 5.8L6.9 2.9L10 5.8M3.8 13.7L6.9 16.6L10 13.7" fill="none" stroke="#4a4f5a" stroke-width="1.4" stroke-linecap="round" stroke-linejoin="round"/></svg></div>
<div class="btn"><svg style="position:absolute;left:0;top:0" width="60" height="45" viewBox="1381 18 60 45" fill="none" stroke="#2b2f3a" stroke-width="1.55"><path d="M1401.5 33.3V39.7H1407.5"/><path d="M1401.9 39.3C1403.6 35.4 1407 33.2 1410.8 33.2C1414.6 33.2 1417.6 35.5 1418.5 39"/><path d="M1414.5 42.3H1420.4V48.4"/><path d="M1420 42.7C1418.4 46.2 1415 48.4 1410.8 48.4C1407.2 48.4 1404.4 46.3 1403.5 43"/></svg></div>
</body></html>
